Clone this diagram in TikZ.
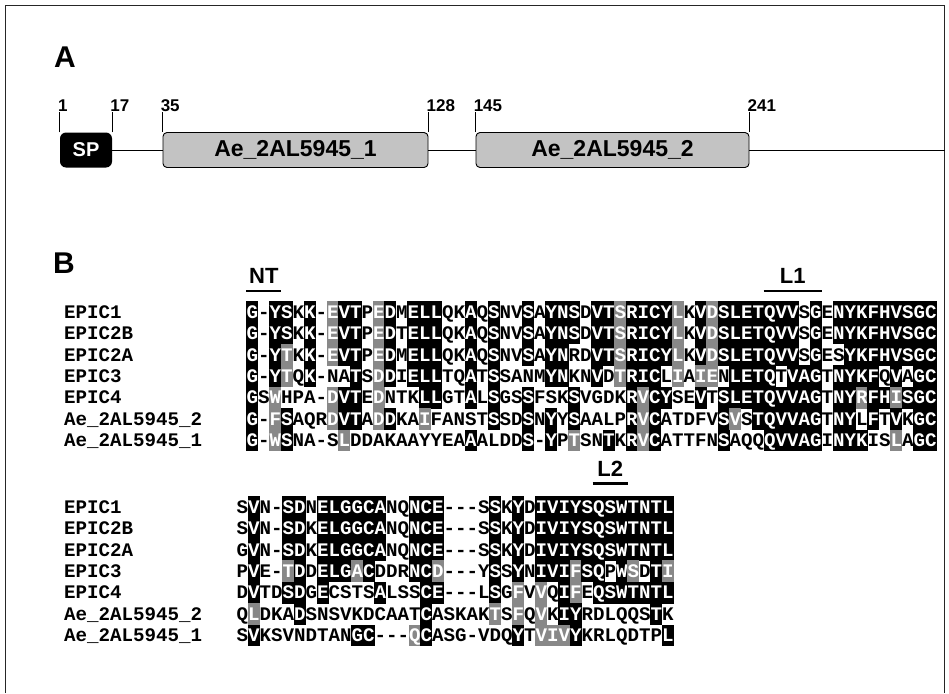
\documentclass[tikz,border=0pt]{standalone}
\usepackage{fontspec}
\setmainfont{Liberation Sans}
\setmonofont{Liberation Mono}
\usetikzlibrary{calc}
\definecolor{shadeGray}{HTML}{888888}
\definecolor{domainGray}{HTML}{C3C3C3}
\newcommand\seqfont{\ttfamily\bfseries\fontsize{19.17}{21}\selectfont}
\tikzset{
  frameLine/.style={draw=black!85, line width=1.1pt},
  panelLabel/.style={font=\bfseries\fontsize{30}{30}\selectfont, inner sep=0pt},
  posLabel/.style={font=\bfseries\fontsize{17}{17}\selectfont, inner sep=0pt, anchor=base west},
  posTick/.style={line width=0.8pt},
  spBox/.style={fill=black, rounded corners=6pt, minimum width=52pt, minimum height=35pt,
    inner sep=0pt, text=white, font=\bfseries\fontsize{20}{20}\selectfont},
  domainBox/.style={draw=black, fill=domainGray, rounded corners=4pt, line width=0.9pt,
    minimum height=35pt, inner sep=0pt, font=\bfseries\fontsize{23}{23}\selectfont},
  backbone/.style={line width=1pt},
  seqName/.style={font=\seqfont, anchor=west, inner sep=0pt, text height=12.6pt, text depth=0pt},
  resCell/.style={font=\seqfont, inner sep=0pt, minimum width=11.8pt, minimum height=21.8pt,
    text height=12.6pt, text depth=0pt},
  motifLabel/.style={font=\bfseries\fontsize{22}{22}\selectfont, inner sep=0pt, anchor=south},
  motifBar/.style={line width=2.6pt}
}

\makeatletter
\newcount\alncol
\def\aln@pop#1#2\relax#3#4{\def#3{#1}\def#4{#2}}
% one alignment row: name prefix, x of first residue, y, residues, shading (b/g/.)
\newcommand\alnrow[5]{%
  \def\aln@seq{#4}\def\aln@shd{#5}\alncol=0
  \loop
    \expandafter\aln@pop\aln@seq\relax\aln@res\aln@seq
    \expandafter\aln@pop\aln@shd\relax\aln@sh\aln@shd
    \if\aln@sh b\def\aln@fill{black}\def\aln@txt{white}%
    \else\if\aln@sh g\def\aln@fill{shadeGray}\def\aln@txt{white}%
    \else\def\aln@fill{none}\def\aln@txt{black}\fi\fi
    \node[resCell, fill=\aln@fill, text=\aln@txt] (#1-\the\alncol)
      at (#2+11.5*\the\alncol, #3) {\aln@res};
    \advance\alncol by 1
  \unless\ifx\aln@seq\empty\repeat}
\makeatother

\begin{document}
\begin{tikzpicture}[x=1pt, y=-1pt]
  \useasboundingbox (0,0) rectangle (949,693);
  \draw[frameLine] (5.5,693) -- (5.5,5.5) -- (944.5,5.5) -- (944.5,693);

  % A: domain map
  \node[panelLabel] (labA) at (65,57) {A};
  \node[spBox] (sp) at (86,150) {SP};
  \node[domainBox, minimum width=265pt] (dom1) at (295.5,150) {Ae\_2AL5945\_1};
  \node[domainBox, minimum width=273pt] (dom2) at (612.5,150) {Ae\_2AL5945\_2};
  \coordinate (cterm) at (944.5,150);
  \draw[backbone] (sp.east) -- (dom1.west);
  \draw[backbone] (dom1.east) -- (dom2.west);
  \draw[backbone] (dom2.east) -- (cterm);
  \foreach \anc/\num in {sp.north west/1, sp.north east/17, dom1.north west/35,
      dom1.north east/128, dom2.north west/145, dom2.north east/241} {
    \draw[posTick] (\anc) -- ++(0,-20);
    \path (\anc) ++(-2,-21) node[posLabel] (pos\num) {\num};
  }

  % B: alignment
  \node[panelLabel] (labB) at (64,263) {B};
  \foreach \nm [count=\k from 0] in {EPIC1,EPIC2B,EPIC2A,EPIC3,EPIC4,Ae\_2AL5945\_2,Ae\_2AL5945\_1} {
    \node[seqName] (nameA\k) at (64,312+21.4*\k) {\nm};
    \node[seqName] (nameB\k) at (64,507+21.4*\k) {\nm};
  }

  \alnrow{a1}{252.3}{312}{G-YSKK-EVT PEDMELLQKA QSNVSAYNSD VTSRICYLKV DSLETQVVSG ENYKFHVSGC}
                         {b.bb.b.gbb .gb.bbb..b .b..b.bbb. bbgbbbbg.b gbbbbbbb.b .bbbbbbbbb}
  \alnrow{a2}{252.3}{333.4}{G-YSKK-EVT PEDTELLQKA QSNVSAYNSD VTSRICYLKV DSLETQVVSG ENYKFHVSGC}
                           {b.bb.b.gbb .gb.bbb..b .b..b.bbb. bbgbbbbg.b gbbbbbbb.b .bbbbbbbbb}
  \alnrow{a3}{252.3}{354.8}{G-YTKK-EVT PEDMELLQKA QSNVSAYNRD VTSRICYLKV DSLETQVVSG ESYKFHVSGC}
                           {b.bg.b.gbb .gb.bbb..b .b..b.bb.. bbgbbbbg.b gbbbbbbb.b ..bbbbbbbb}
  \alnrow{a4}{252.3}{376.2}{G-YTQK-NAT SDDIELLTQA TSSANMYNKN VDTRICLIAI ENLETQTVAG TNYKFQVAGC}
                           {b.bg.b...b .gb.bbb..b .b....bb.. b.gbbb.g.g g.bbbb.bbb .bbbb.b.bb}
  \alnrow{a5}{252.3}{397.6}{GSWHPA-DVT EDNTKLLGTA LSGSSFSKSV GDKRVCYSEV TSLETQVVAG TNYRFHISGC}
                           {b.g....gbb .g...bb..b .b..b...b. ...bgbb..b .bbbbbbbbb .bbgbbgbbb}
  \alnrow{a6}{252.3}{419}{G-FSAQRDVT ADDKAIFANS TSSDSNYYSA ALPRVCATDF VSVSTQVVAG TNYLFTVKGC}
                         {b.gb...gbb .gb..g.... .b..b.b.b. ...bgb.... .bg.bbbbbb .bb.b.b.bb}
  \alnrow{a7}{252.3}{440.4}{G-WSNA-SLD DAKAAYYEAA ALDDS-YPTS NTKRVCATTF NSAQQQVVAG INYKISLAGC}
                           {b.gb....g. .........b ....b.b.g. .b.bgb.... .b...bbbbb .bbb..g.bb}

  \alnrow{b1}{242.3}{507}{SVN-SDNELG GCANQNCE-- -SSKYDIVIY SQSWTNTL}
                         {.b..bb.bbb bbb..bbb.. ..b.b.bbbb bbbbbbbb}
  \alnrow{b2}{242.3}{528.4}{SVN-SDKELG GCANQNCE-- -SSKYDIVIY SQSWTNTL}
                           {.b..bb.bbb bbb..bbb.. ..b.b.bbbb bbbbbbbb}
  \alnrow{b3}{242.3}{549.8}{GVN-SDKELG GCANQNCE-- -SSKYDIVIY SQSWTNTL}
                           {.b..bb.bbb bbb..bbb.. ..b.b.bbbb bbbbbbbb}
  \alnrow{b4}{242.3}{571.2}{PVE-TDDELG ACDDRNCD-- -YSSYNIVIF SQPWSDTI}
                           {.b..gb.bbb gb...bbg.. ..b.b.bbbg bb.bg.bg}
  \alnrow{b5}{242.3}{592.6}{DVTDSDGECS TSALSSCE-- -LSGFVVQIF EQSWTNTL}
                           {.b..bb.b.. ..b...bb.. ..b.g.g.bg .bbbbbbb}
  \alnrow{b6}{242.3}{614}{QLDKADSNSV KDCAATCASK AKTSFQVKIY RDLQQSTK}
                         {.g...b.... ......b... ..g.g.g.bb ......b.}
  \alnrow{b7}{242.3}{635.4}{SVKSVNDTAN GC---QCASG -VDQYTVIVY KRLQDTPL}
                           {.b........ bb...gb... ....b.gggb .......b}

  % loop markers
  \coordinate (ntL) at ([yshift=10pt]a1-0.north west);
  \coordinate (ntR) at ([yshift=10pt]a1-2.north east);
  \coordinate (lOneL) at ([yshift=10pt]a1-45.north west);
  \coordinate (lOneR) at ([yshift=10pt]a1-49.north east);
  \coordinate (lTwoL) at ([yshift=12.5pt]b1-31.north west);
  \coordinate (lTwoR) at ([yshift=12.5pt]b1-33.north east);
  \draw[motifBar] (ntL) -- (ntR);
  \draw[motifBar] (lOneL) -- (lOneR);
  \draw[motifBar] (lTwoL) -- (lTwoR);
  \node[motifLabel] (NT) at ($(ntL)!0.5!(ntR)+(0,-7)$) {NT};
  \node[motifLabel] (L1) at ($(lOneL)!0.5!(lOneR)+(0,-7)$) {L1};
  \node[motifLabel] (L2) at ($(lTwoL)!0.5!(lTwoR)+(0,-7)$) {L2};
\end{tikzpicture}
\end{document}
